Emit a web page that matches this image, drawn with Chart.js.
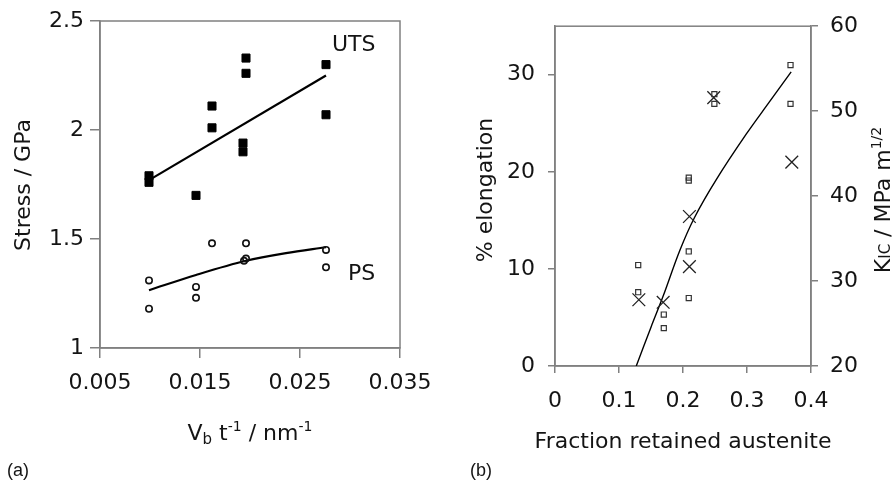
<!DOCTYPE html>
<html><head><meta charset="utf-8">
<script src="https://cdn.jsdelivr.net/npm/chart.js@4.4.1/dist/chart.umd.min.js"></script>
<style>
body{margin:0;background:#fff;width:892px;height:485px;overflow:hidden;position:relative}
canvas{position:absolute;top:0}
</style></head><body>
<canvas id="ca" width="450" height="485" style="left:0"></canvas>
<canvas id="cb" width="442" height="485" style="left:450px"></canvas>
<script>
// ---------- Panel (a) data ----------
const utsX = [0.0099, 0.0099, 0.0146, 0.0162, 0.0162, 0.0193, 0.0193, 0.0196, 0.0196, 0.0276, 0.0276];
const utsY = [1.79, 1.76, 1.70, 2.11, 2.01, 1.94, 1.90, 2.33, 2.26, 2.30, 2.07];
const psX  = [0.0099, 0.0099, 0.0146, 0.0146, 0.0162, 0.0196, 0.0196, 0.0194, 0.0276, 0.0276];
const psY  = [1.31, 1.18, 1.28, 1.23, 1.48, 1.48, 1.41, 1.40, 1.45, 1.37];
const utsFitX = [0.0099, 0.0276];
const utsFitY = [1.77, 2.25];
const psFitX = [0.0099, 0.0146, 0.0196, 0.0236, 0.0276];
const psFitY = [1.265, 1.335, 1.40, 1.435, 1.462];
const xTicksA = [0.005, 0.015, 0.025, 0.035];
const yTicksA = [1, 1.5, 2, 2.5];

// ---------- Panel (b) data ----------
const elongX = [0.130, 0.130, 0.170, 0.170, 0.209, 0.209, 0.209, 0.209, 0.249, 0.249, 0.368, 0.368];
const elongY = [10.4, 7.6, 5.3, 3.9, 19.4, 19.1, 11.8, 7.0, 28.0, 27.0, 31.0, 27.0];
const kicX = [0.131, 0.169, 0.210, 0.210, 0.248, 0.370];
const kicY = [27.8, 27.5, 37.6, 31.7, 51.6, 44.0];
const fitX = [0.127, 0.150, 0.169, 0.195, 0.218, 0.252, 0.299, 0.335, 0.369];
const fitY = [0, 4.0, 7.2, 11.9, 15.3, 19.2, 23.9, 27.2, 30.3];
const xTicksB = [0, 0.1, 0.2, 0.3, 0.4];
const yTicksB = [0, 10, 20, 30];
const y2TicksB = [20, 30, 40, 50, 60];

const FONT = "'DejaVu Sans', Verdana, sans-serif";
const AX = '#808080';
const TXT = '#141414';
const FS = 22;
Chart.defaults.font.family = FONT;
Chart.defaults.color = TXT;

const pts = (xs, ys) => xs.map((x, i) => ({x: x, y: ys[i]}));
const setTicks = vals => s => { s.ticks = vals.map(v => ({value: v})); };

function axis(extra) {
  return Object.assign({
    type: 'linear',
    grid: {drawOnChartArea: false, drawTicks: true, tickLength: 10, color: AX, lineWidth: 1.5},
    border: {display: true, color: AX, width: 1.5},
    ticks: {font: {size: FS}, color: TXT}
  }, extra);
}

function rich(ctx, segs, x, y, rot, align) {
  ctx.save();
  ctx.translate(x, y);
  if (rot) ctx.rotate(rot);
  ctx.textBaseline = 'alphabetic';
  ctx.textAlign = 'left';
  ctx.fillStyle = TXT;
  let w = 0;
  segs.forEach(s => { ctx.font = s.f; s.w = ctx.measureText(s.t).width; w += s.w; });
  let cx = align === 'left' ? 0 : -w / 2;
  segs.forEach(s => { ctx.font = s.f; ctx.fillText(s.t, cx, s.dy || 0); cx += s.w; });
  ctx.restore();
}
const F = n => n + 'px ' + FONT;
const FL = n => n + "px 'Liberation Sans', Arial, sans-serif";

const frame = {
  id: 'frame',
  beforeDatasetsDraw(c) {
    const a = c.chartArea, ctx = c.ctx;
    ctx.save();
    ctx.strokeStyle = AX; ctx.lineWidth = 1.5;
    ctx.strokeRect(a.left, a.top, a.right - a.left, a.bottom - a.top);
    ctx.restore();
  }
};

const textA = {
  id: 'textA',
  afterDraw(c) {
    const ctx = c.ctx;
    rich(ctx, [{t: 'Stress / GPa', f: F(FS)}], 29.5, 185, -Math.PI / 2);
    rich(ctx, [{t: 'UTS', f: F(FS)}], 332, 51, 0, 'left');
    rich(ctx, [{t: 'PS', f: F(FS)}], 348, 280, 0, 'left');
    rich(ctx, [
      {t: 'V', f: F(FS)}, {t: 'b', f: F(15), dy: 4}, {t: ' t', f: F(FS)},
      {t: '-1', f: F(14), dy: -9}, {t: ' / nm', f: F(FS)}, {t: '-1', f: F(14), dy: -9}
    ], 250, 440);
    rich(ctx, [{t: '(a)', f: FL(18)}], 7, 476, 0, 'left');
  }
};

const textB = {
  id: 'textB',
  afterDraw(c) {
    const ctx = c.ctx;
    rich(ctx, [{t: '% elongation', f: F(FS)}], 42, 190, -Math.PI / 2);
    rich(ctx, [{t: 'Fraction retained austenite', f: F(FS)}], 233, 448);
    rich(ctx, [
      {t: 'K', f: F(FS)}, {t: 'IC', f: F(15)}, {t: ' / MPa m', f: F(FS)}, {t: '1/2', f: F(14), dy: -9}
    ], 440, 200, -Math.PI / 2);
    rich(ctx, [{t: '(b)', f: FL(18)}], 20, 476, 0, 'left');
  }
};

const common = {
  responsive: false, animation: false, events: [],
  plugins: {legend: {display: false}, tooltip: {enabled: false}}
};

new Chart(document.getElementById('ca'), {
  type: 'scatter',
  data: {datasets: [
    {label: 'UTS', data: pts(utsX, utsY), pointStyle: 'rect', pointRadius: 5.7,
     backgroundColor: '#000', borderColor: '#000', borderWidth: 1},
    {label: 'PS', data: pts(psX, psY), pointStyle: 'circle', pointRadius: 3.2,
     backgroundColor: 'rgba(0,0,0,0)', borderColor: '#111', borderWidth: 1.6},
    {label: 'UTS fit', data: pts(utsFitX, utsFitY), showLine: true, pointRadius: 0,
     borderColor: '#000', borderWidth: 2.2},
    {label: 'PS fit', data: pts(psFitX, psFitY), showLine: true, pointRadius: 0,
     borderColor: '#000', borderWidth: 2.2, cubicInterpolationMode: 'monotone'}
  ]},
  options: Object.assign({}, common, {
    layout: {padding: {top: 21, right: 50, left: 0, bottom: 0}},
    scales: {
      x: axis({min: 0.005, max: 0.035, afterBuildTicks: setTicks(xTicksA),
        afterFit: s => { s.height = 137; },
        ticks: {font: {size: FS}, color: TXT, padding: 12, callback: v => v.toFixed(3)}}),
      y: axis({min: 1, max: 2.5, afterBuildTicks: setTicks(yTicksA),
        afterFit: s => { s.width = 100; },
        ticks: {font: {size: FS}, color: TXT, padding: 6, callback: v => String(v)}})
    }
  }),
  plugins: [frame, textA]
});

new Chart(document.getElementById('cb'), {
  type: 'scatter',
  data: {datasets: [
    {label: '% elongation', data: pts(elongX, elongY), yAxisID: 'y', pointStyle: 'rect', pointRadius: 3.6,
     backgroundColor: 'rgba(0,0,0,0)', borderColor: '#333', borderWidth: 1.2},
    {label: 'KIC', data: pts(kicX, kicY), yAxisID: 'y2', pointStyle: 'crossRot', pointRadius: 9,
     borderColor: '#222', borderWidth: 1.3},
    {label: 'fit', data: pts(fitX, fitY), yAxisID: 'y', showLine: true, pointRadius: 0,
     borderColor: '#000', borderWidth: 1.4, tension: 0.35}
  ]},
  options: Object.assign({}, common, {
    layout: {padding: {top: 22, right: 0, left: 0, bottom: 0}},
    scales: {
      x: axis({min: 0, max: 0.4, afterBuildTicks: setTicks(xTicksB),
        afterFit: s => { s.height = 119; },
        grid: {drawOnChartArea: false, drawTicks: true, tickLength: 7, color: AX, lineWidth: 1.5},
        ticks: {font: {size: FS}, color: TXT, padding: 15, callback: v => String(v)}}),
      y: axis({position: 'left', min: 0, max: 35, afterBuildTicks: setTicks(yTicksB),
        afterFit: s => { s.width = 105; },
        grid: {drawOnChartArea: false, drawTicks: true, tickLength: 7, color: AX, lineWidth: 1.5},
        ticks: {font: {size: FS}, color: TXT, padding: 13, callback: v => String(v)}}),
      y2: axis({position: 'right', min: 20, max: 60, afterBuildTicks: setTicks(y2TicksB),
        afterFit: s => { s.width = 81; },
        grid: {drawOnChartArea: false, drawTicks: true, tickLength: 7, color: AX, lineWidth: 1.5},
        ticks: {font: {size: FS}, color: TXT, padding: 12, callback: v => String(v)}})
    }
  }),
  plugins: [frame, textB]
});
</script>
</body></html>
